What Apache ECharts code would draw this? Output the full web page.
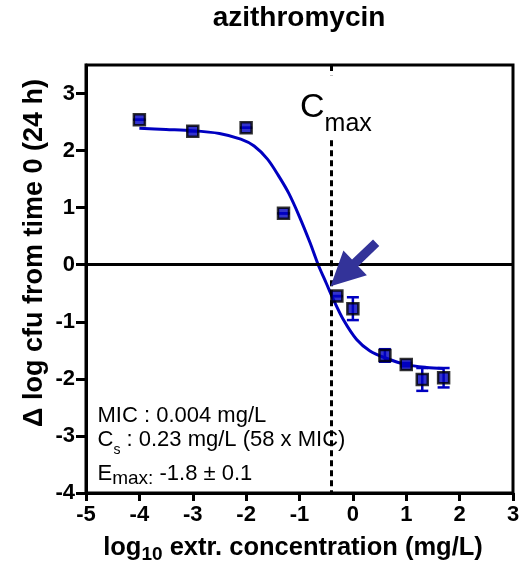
<!DOCTYPE html>
<html>
<head>
<meta charset="utf-8">
<script src="https://cdn.jsdelivr.net/npm/echarts@6/dist/echarts.min.js"></script>
<style>
  html, body { margin: 0; padding: 0; background: #fff; }
  #chart { width: 529px; height: 567px; }
</style>
</head>
<body>
<div id="chart"></div>
<script>
// log10 extracellular concentration (mg/L) and response at 24 h
const logConc = [-4, -3, -2, -1.3, -0.3, 0, 0.6, 1, 1.3, 1.7];
const deltaCfu = [2.54, 2.34, 2.40, 0.90, -0.55, -0.77, -1.59, -1.75, -2.01, -1.98];
const sem = [0, 0, 0, 0, 0, 0.20, 0.11, 0.03, 0.20, 0.17];

// fitted sigmoid
const fitX = [-4, -3.5, -3, -2.5, -2.1, -1.85, -1.6, -1.4, -1.2, -1, -0.8, -0.65, -0.5, -0.37, -0.18, 0.07, 0.32, 0.6, 1, 1.38, 1.7];
const fitY = [2.39, 2.37, 2.35, 2.30, 2.20, 2.08, 1.85, 1.57, 1.25, 0.84, 0.38, 0, -0.32, -0.60, -0.96, -1.31, -1.51, -1.63, -1.75, -1.80, -1.82];

const yTicks = [-4, -3, -2, -1, 0, 1, 2, 3];

const cmaxLog = -0.4;
// arrow pointing at Cs: [tailX, tailY, tipX, tipY]
const arrow = [0.436, 0.384, -0.418, -0.379];

const FONT = 'Liberation Sans, Arial, sans-serif';
const BLUE = '#0000c0';

const chart = echarts.init(document.getElementById('chart'));

// text runs with subscripts, measured so the pieces sit next to each other
const measure = document.createElement('canvas').getContext('2d');
function textRun(x, baseline, parts, center) {
  const widths = parts.map(p => {
    measure.font = (p.bold ? 'bold ' : '') + p.size + 'px ' + FONT;
    return measure.measureText(p.text).width;
  });
  const total = widths.reduce((a, b) => a + b, 0);
  let cx = center ? x - total / 2 : x;
  return parts.map((p, i) => {
    const el = {
      type: 'text',
      x: cx,
      y: baseline + (p.drop || 0) - 0.35 * p.size,
      style: {
        text: p.text,
        fill: '#000',
        font: (p.bold ? 'bold ' : '') + p.size + 'px ' + FONT,
        align: 'left',
        verticalAlign: 'middle'
      }
    };
    cx += widths[i];
    return el;
  });
}

const graphics = [].concat(
  textRun(299, 28.5, [{ text: 'azithromycin', size: 28, bold: true }], true),
  textRun(293, 556.5, [
    { text: 'log', size: 25.5, bold: true },
    { text: '10', size: 19, bold: true, drop: 5 },
    { text: ' extr. concentration (mg/L)', size: 25.5, bold: true }
  ], true),
  textRun(300, 120, [
    { text: 'C', size: 34 },
    { text: 'max', size: 25, drop: 13 }
  ], false),
  textRun(97.5, 424, [{ text: 'MIC : 0.004 mg/L', size: 22 }], false),
  textRun(97.5, 448, [
    { text: 'C', size: 22 },
    { text: 's', size: 14, drop: 7 },
    { text: ' : 0.23 mg/L (58 x MIC)', size: 22 }
  ], false),
  textRun(97.5, 482, [
    { text: 'E', size: 22 },
    { text: 'max:', size: 19, drop: 3.5 },
    { text: ' -1.8 \u00b1 0.1', size: 22 }
  ], false),
  [{
    type: 'text',
    x: 35,
    y: 253,
    rotation: Math.PI / 2,
    style: {
      text: '\u0394 log cfu from time 0 (24 h)',
      fill: '#000',
      font: 'bold 27px ' + FONT,
      align: 'center',
      verticalAlign: 'middle'
    }
  }]
);

const option = {
  animation: false,
  grid: {
    left: 86, right: 16, top: 65, bottom: 74,
    show: true, borderColor: '#000', borderWidth: 3
  },
  xAxis: {
    type: 'value',
    min: -5, max: 3, interval: 1,
    splitLine: { show: false },
    axisLine: { onZero: false, lineStyle: { color: '#000', width: 3 } },
    axisTick: { length: 8, lineStyle: { color: '#000', width: 3 } },
    axisLabel: {
      margin: 11,
      color: '#000', fontFamily: FONT, fontWeight: 'bold', fontSize: 22
    }
  },
  yAxis: {
    type: 'value',
    min: -4, max: 3.5, interval: 1,
    splitLine: { show: false },
    axisLine: { onZero: false, lineStyle: { color: '#000', width: 3 } },
    axisTick: { length: 10, lineStyle: { color: '#000', width: 3 }, customValues: yTicks },
    axisLabel: {
      margin: 11,
      showMaxLabel: false,
      formatter: v => (yTicks.indexOf(v) >= 0 ? String(v) : ''),
      color: '#000', fontFamily: FONT, fontWeight: 'bold', fontSize: 22
    }
  },
  graphic: graphics,
  series: [
    {
      // reference lines: zero effect and Cmax
      type: 'line',
      data: [],
      silent: true,
      markLine: {
        silent: true,
        symbol: 'none',
        label: { show: false },
        animation: false,
        data: [
          { yAxis: 0, lineStyle: { color: '#000', width: 3, type: 'solid' } },
          [
            { coord: [cmaxLog, 3.5], lineStyle: { color: '#000', width: 3, type: [6, 4] } },
            { coord: [cmaxLog, 3.32] }
          ],
          [
            { coord: [cmaxLog, 2.18], lineStyle: { color: '#000', width: 3, type: [6, 4] } },
            { coord: [cmaxLog, -4] }
          ]
        ]
      }
    },
    {
      name: 'fit',
      type: 'line',
      data: fitX.map((x, i) => [x, fitY[i]]),
      smooth: 0.3,
      showSymbol: false,
      lineStyle: { color: BLUE, width: 3 },
      z: 3
    },
    {
      name: 'sem',
      type: 'custom',
      data: logConc.map((x, i) => [x, deltaCfu[i] - sem[i], deltaCfu[i] + sem[i]]),
      renderItem(params, api) {
        const lo = api.coord([api.value(0), api.value(1)]);
        const hi = api.coord([api.value(0), api.value(2)]);
        const cap = 6;
        const style = { stroke: BLUE, lineWidth: 2.5 };
        return {
          type: 'group',
          children: [
            { type: 'line', shape: { x1: lo[0], y1: lo[1], x2: hi[0], y2: hi[1] }, style },
            { type: 'line', shape: { x1: lo[0] - cap, y1: lo[1], x2: lo[0] + cap, y2: lo[1] }, style },
            { type: 'line', shape: { x1: hi[0] - cap, y1: hi[1], x2: hi[0] + cap, y2: hi[1] }, style }
          ]
        };
      },
      z: 4
    },
    {
      name: 'data',
      type: 'scatter',
      data: logConc.map((x, i) => [x, deltaCfu[i]]),
      symbol: 'rect',
      symbolSize: 11,
      itemStyle: { color: BLUE, borderColor: '#000', borderWidth: 2.5 },
      z: 5
    },
    {
      name: 'arrow',
      type: 'custom',
      data: [arrow],
      renderItem(params, api) {
        const tail = api.coord([api.value(0), api.value(1)]);
        const tip = api.coord([api.value(2), api.value(3)]);
        const dx = tip[0] - tail[0], dy = tip[1] - tail[1];
        const len = Math.sqrt(dx * dx + dy * dy);
        const ux = dx / len, uy = dy / len;
        const nx = -uy, ny = ux;
        const headLen = 34, headHalf = 17, shaftHalf = 4.5;
        const bx = tip[0] - ux * headLen, by = tip[1] - uy * headLen;
        const pts = [
          [tail[0] + nx * shaftHalf, tail[1] + ny * shaftHalf],
          [bx + nx * shaftHalf, by + ny * shaftHalf],
          [bx + nx * headHalf, by + ny * headHalf],
          [tip[0], tip[1]],
          [bx - nx * headHalf, by - ny * headHalf],
          [bx - nx * shaftHalf, by - ny * shaftHalf],
          [tail[0] - nx * shaftHalf, tail[1] - ny * shaftHalf]
        ];
        return { type: 'polygon', shape: { points: pts }, style: { fill: '#333399' } };
      },
      z: 6
    }
  ]
};

chart.setOption(option);
</script>
</body>
</html>
